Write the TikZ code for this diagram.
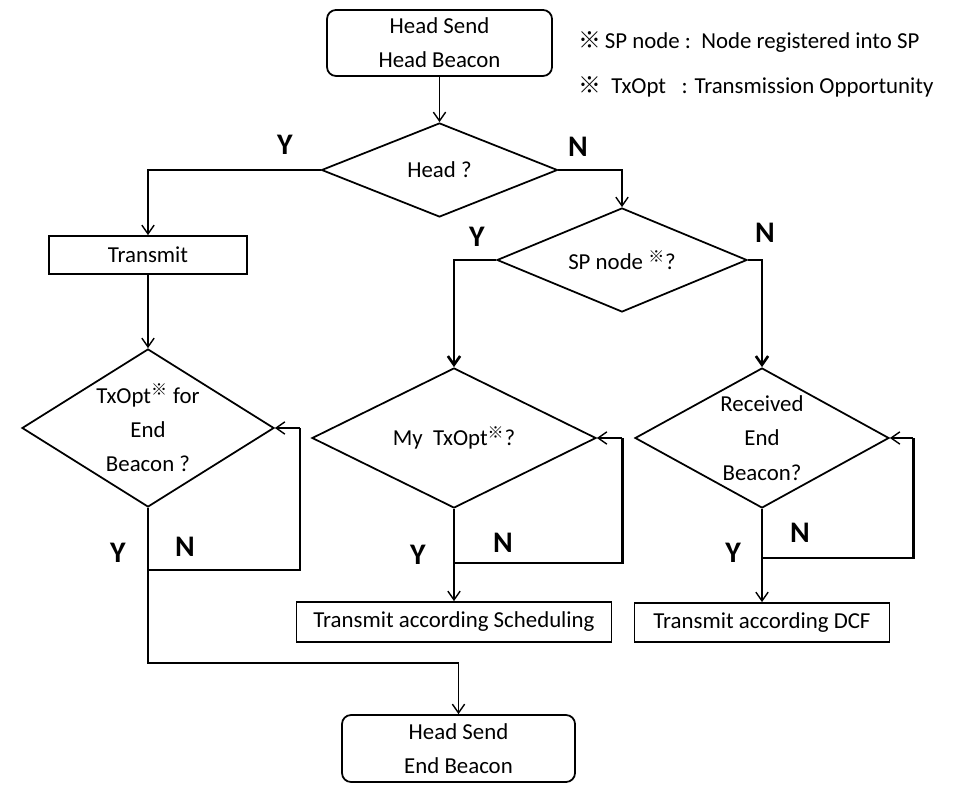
\documentclass[tikz,border=0pt]{standalone}
\usepackage{fontspec}
\setmainfont{Carlito}
\newfontfamily\cjk{Noto Sans CJK SC}
\newcommand{\refmark}{{\cjk ※}}
\usepackage{tikz}
\usetikzlibrary{shapes.geometric, arrows.meta, positioning, calc}

\begin{document}
\begin{tikzpicture}[font=\fontsize{13}{19.5}\selectfont,
    box/.style={draw, line width=1pt, inner sep=0pt, align=center},
    endbox/.style={box, rounded corners=0.18cm},
    decision/.style={draw, diamond, line width=1pt, inner sep=0pt, align=center},
    yn/.style={font=\fontsize{17}{20}\selectfont\bfseries},
    flow/.style={line width=0.8pt, -{Straight Barb[length=5pt,width=7pt]}},
    loopline/.style={line width=1.7pt}]
    \useasboundingbox (0,0) rectangle (19.2,15.7);
    % ---- 节点 ----
    \node[endbox, minimum width=4.5cm, minimum height=1.32cm] (hb) at (8.79,14.84) {Head Send\\Head Beacon};
    \node[decision, aspect=2.5, minimum width=4.72cm, minimum height=1.88cm] (head) at (8.79,12.30) {Head ?};
    \node[box, minimum width=3.96cm, minimum height=0.76cm] (tx) at (2.96,10.6) {Transmit};
    \node[decision, aspect=2.4, minimum width=5.0cm, minimum height=2.08cm] (sp) at (12.44,10.5) {SP node \textsuperscript{\refmark}?};
    \node[decision, aspect=1.6, minimum width=5.04cm, minimum height=3.16cm] (eb) at (2.96,7.14) {TxOpt\textsuperscript{\refmark} for\\End\\Beacon ?};
    \node[decision, aspect=2.03, minimum width=5.68cm, minimum height=2.8cm] (my) at (9.08,6.94) {My\ \ TxOpt\textsuperscript{\refmark}?};
    \node[decision, aspect=1.81, minimum width=5.08cm, minimum height=2.8cm] (rx) at (15.24,6.94) {Received\\End\\Beacon?};
    \node[box, minimum width=6.3cm, minimum height=0.8cm] (sch) at (9.08,3.26) {Transmit according Scheduling};
    \node[box, minimum width=5.1cm, minimum height=0.78cm] (dcf) at (15.24,3.25) {Transmit according DCF};
    \node[endbox, minimum width=4.66cm, minimum height=1.34cm] (he) at (9.17,0.73) {Head Send\\End Beacon};
    % ---- 注释 ----
    \node[anchor=west] (n1) at (11.44,14.86) {\refmark\,SP node :\ \ Node registered into SP};
    \node[anchor=west] (n2) at (11.44,13.96) {\refmark\ \ TxOpt\ \ \ : Transmission Opportunity};
    % ---- 连线 ----
    \draw[flow] (hb) -- (head);
    \draw[flow] (head.west) -| (tx.north);
    \draw[flow] (head.east) -| (sp.north);
    \draw[flow] (tx) -- (eb);
    \draw[flow, line width=1.5pt] (sp.west) -| (my.north);
    \draw[flow, line width=1.5pt] (sp.east) -| (rx.north);
    \draw[flow] (eb.south) -- (2.96,2.44) -| (he.north);
    \draw[flow] (my.south) -- (sch.north);
    \draw[flow] (rx.south) -- (dcf.north);
    % ---- 循环 ----
    \coordinate (ebj) at (2.96,4.30);
    \coordinate (ebr) at (6.0,7.14);
    \draw[loopline] (ebj) -- (6.0,4.30) -- (ebr);
    \draw[flow] (ebr) -- (eb.east);
    \coordinate (myj) at (9.08,4.44);
    \coordinate (myr) at (12.44,6.94);
    \draw[loopline] (myj) -- (12.44,4.44) -- (myr);
    \draw[flow] (myr) -- (my.east);
    \coordinate (rxj) at (15.24,4.54);
    \coordinate (rxr) at (18.26,6.94);
    \draw[loopline] (rxj) -- (18.26,4.54) -- (rxr);
    \draw[flow] (rxr) -- (rx.east);
    % ---- Y / N ----
    \node[yn] (hy) at (5.70,12.80) {Y};
    \node[yn] (hn) at (11.56,12.76) {N};
    \node[yn] (spy) at (9.54,10.96) {Y};
    \node[yn] (spn) at (15.30,11.04) {N};
    \node[yn] (eby) at (2.36,4.64) {Y};
    \node[yn] (ebn) at (3.70,4.76) {N};
    \node[yn] (myy) at (8.36,4.60) {Y};
    \node[yn] (myn) at (10.06,4.84) {N};
    \node[yn] (rxy) at (14.66,4.64) {Y};
    \node[yn] (rxn) at (16.0,5.04) {N};
\end{tikzpicture}
\end{document}
